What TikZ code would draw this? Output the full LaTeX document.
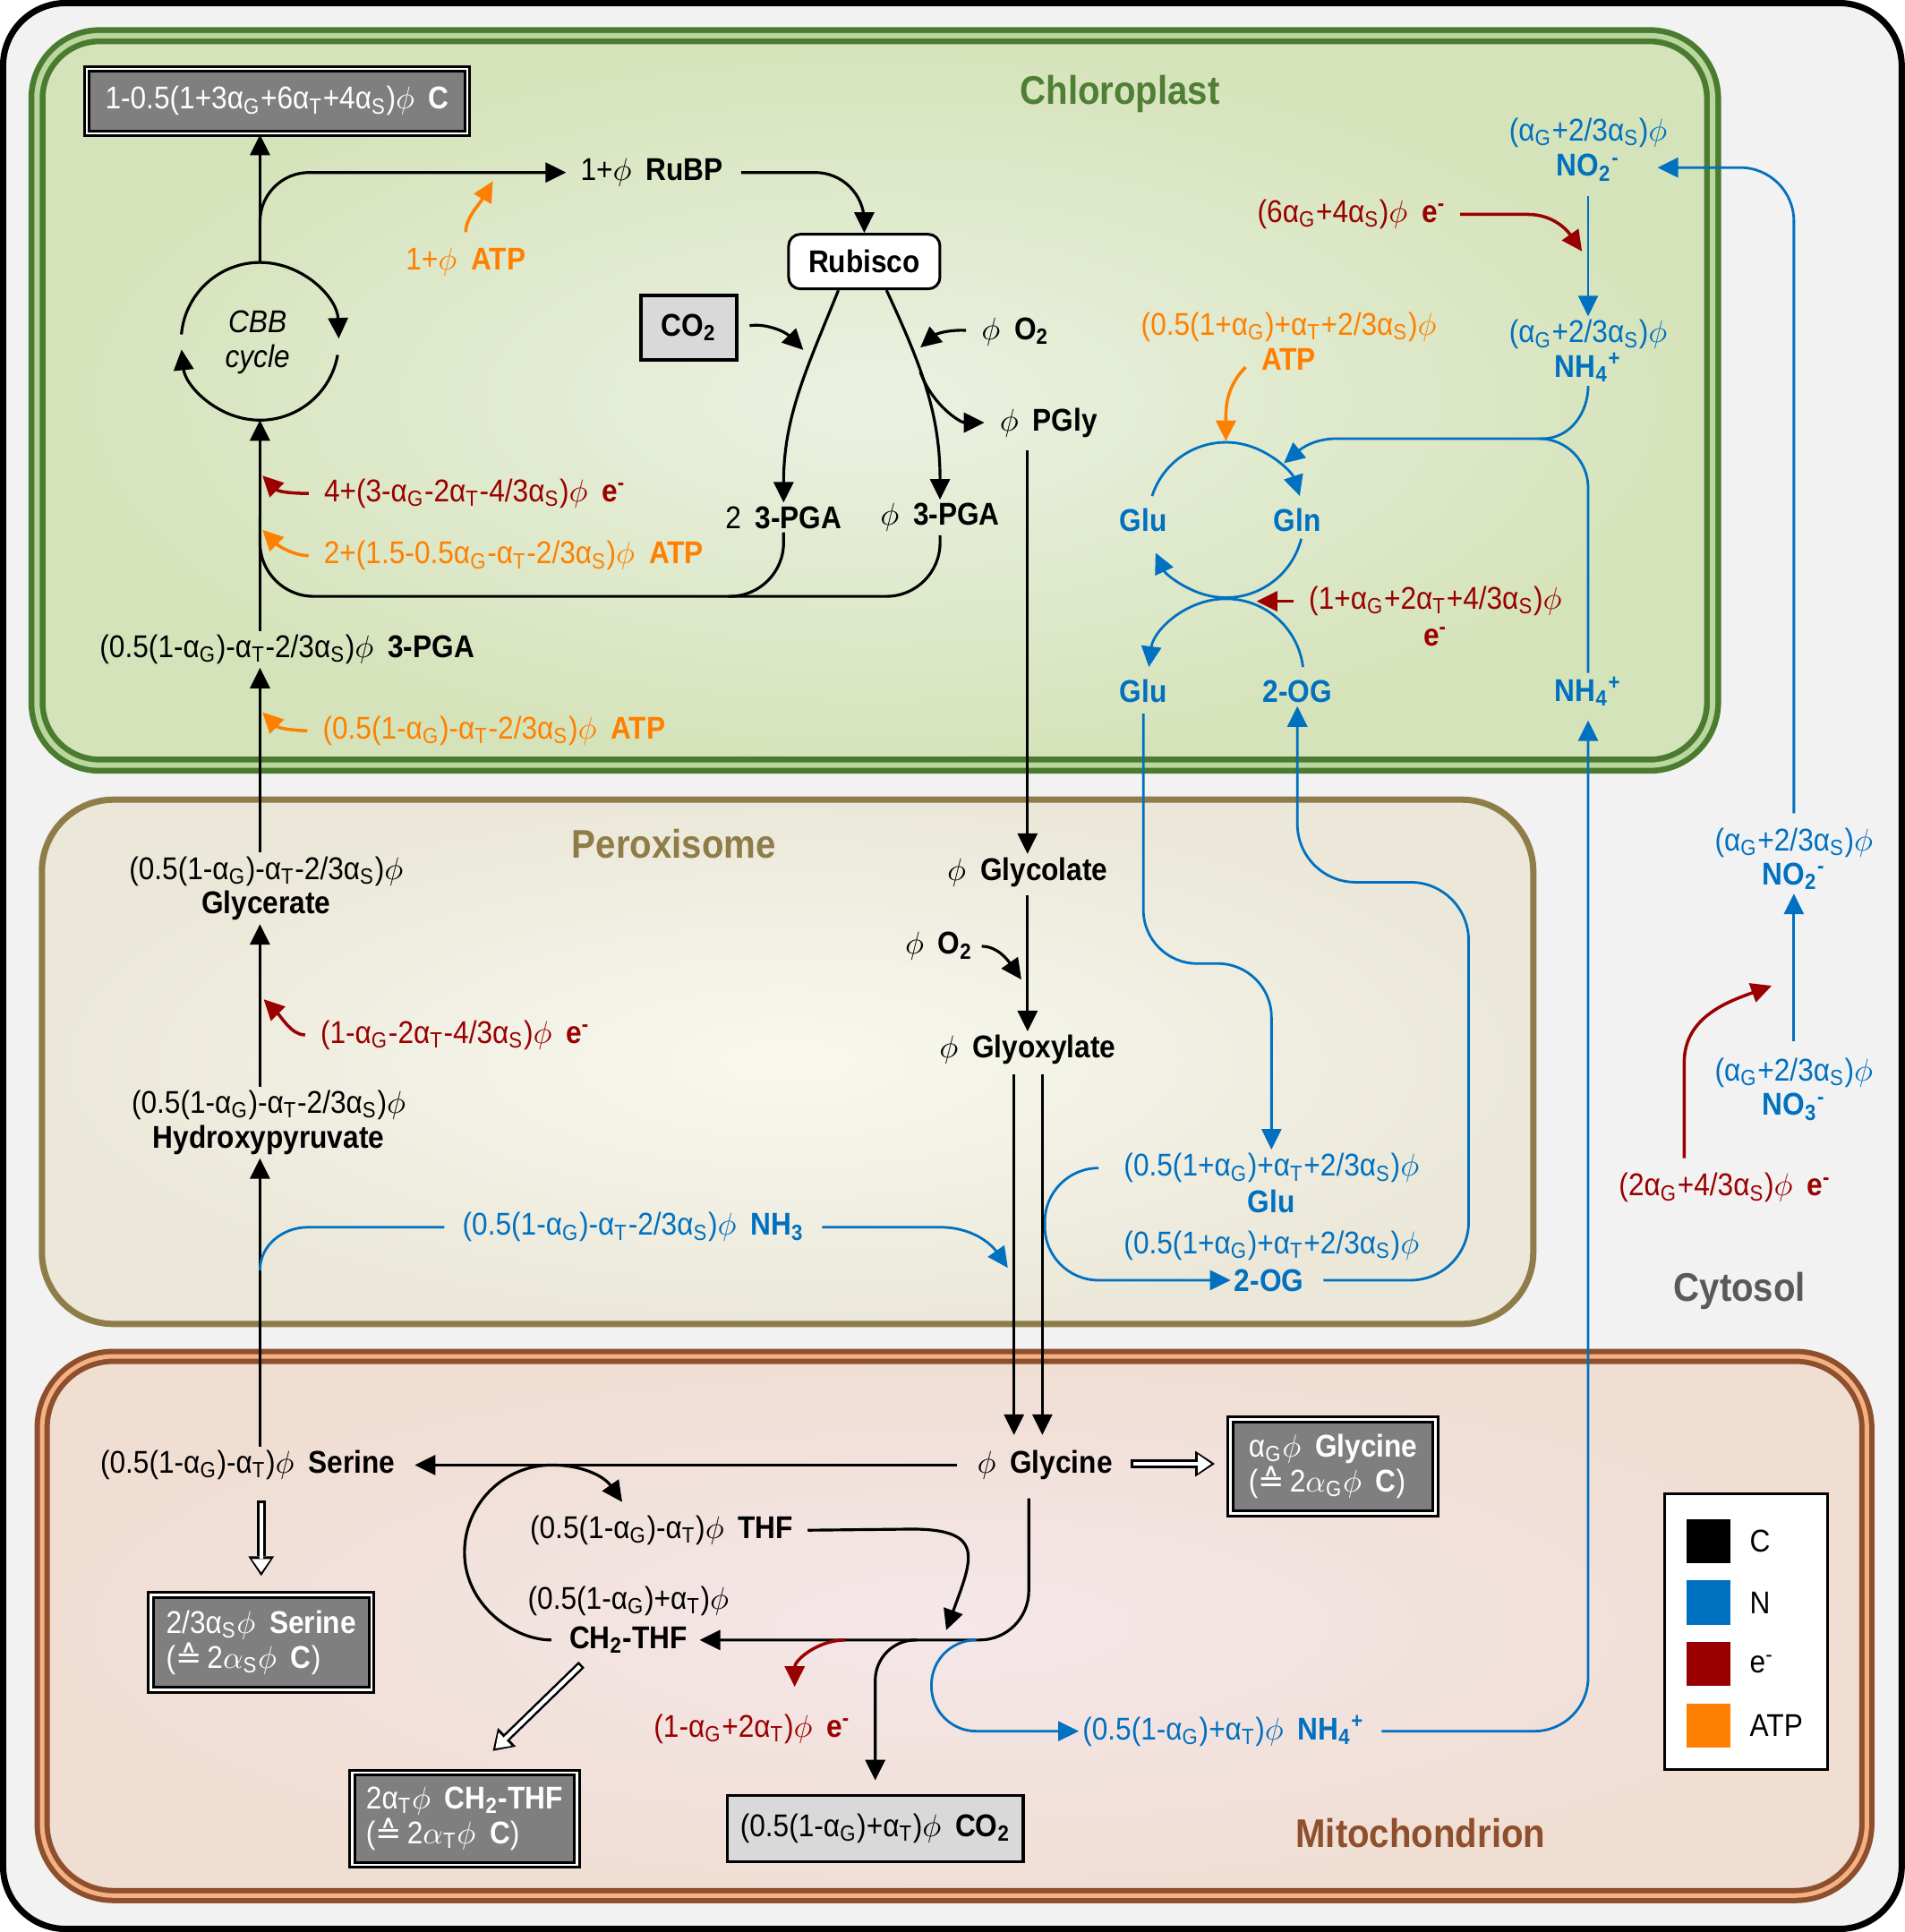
\documentclass[tikz,border=0pt]{standalone}
\usepackage{fontspec}
\setmainfont{Liberation Sans}[FakeStretch=0.9]
\newfontfamily\symfont{DejaVu Sans}
\usetikzlibrary{arrows.meta,calc,positioning}

\definecolor{cytofill}{HTML}{F2F2F2}
\definecolor{chldark}{HTML}{4A7B2F}
\definecolor{chllight}{HTML}{B9D79F}
\definecolor{chlout}{HTML}{D5E3BA}
\definecolor{chlin}{HTML}{EBF1E2}
\definecolor{chltitle}{HTML}{4F7F35}
\definecolor{perdark}{HTML}{8E7D48}
\definecolor{perout}{HTML}{EBE8D9}
\definecolor{perin}{HTML}{F8F8EF}
\definecolor{mitdark}{HTML}{8E4F2D}
\definecolor{mitlight}{HTML}{F4B183}
\definecolor{mitout}{HTML}{F0DED3}
\definecolor{mitin}{HTML}{F5E7EA}
\definecolor{cytotitle}{HTML}{595959}
\definecolor{nblue}{HTML}{0070C0}
\definecolor{ered}{HTML}{9A0000}
\definecolor{atporange}{HTML}{FF8000}
\definecolor{sinkgray}{HTML}{7F7F7F}
\definecolor{gasgray}{HTML}{D9D9D9}

\newcommand\aG{α\textsubscript{G}}
\newcommand\aT{α\textsubscript{T}}
\newcommand\aS{α\textsubscript{S}}
\newcommand\phv{\ensuremath{\phi}}
\newcommand\nsp{\hspace{0.45em}}
\newcommand\chg[2]{\textsubscript{#1}\textsuperscript{#2}}
\newcommand\elec{\textbf{e\textsuperscript{-}}}
\newcommand\ceq[1]{({\symfont ≙}\,2$\alpha$\textsubscript{#1}\phv\nsp\textbf{C})}

\begin{document}
\begin{tikzpicture}[x=0.1376mm, y=-0.1376mm,
  every node/.style = {font=\fontsize{10}{11}\selectfont, inner sep=1pt, align=center},
  flowtip/.style = {-{Triangle[length=2.3mm, width=2.2mm]}},
  cline/.style = {draw=black, line width=0.9pt, flowtip},
  cplain/.style = {draw=black, line width=0.9pt},
  nline/.style = {draw=nblue, line width=0.8pt, flowtip},
  nplain/.style = {draw=nblue, line width=0.8pt},
  eline/.style = {draw=ered, line width=1pt, flowtip},
  aline/.style = {draw=atporange, line width=1pt, flowtip},
  nlab/.style = {text=nblue},
  elab/.style = {text=ered},
  alab/.style = {text=atporange},
  comptitle/.style = {font=\fontsize{12.7}{14}\selectfont\bfseries},
  sink/.style = {draw=black, line width=0.3mm, double=white, double distance=0.25mm, fill=sinkgray, text=white, align=left},
  gasbox/.style = {draw=black, line width=0.35mm, fill=gasgray},
  legsq/.style = {minimum size=4.9mm, inner sep=0pt},
  hollowout/.style = {draw=black, line width=0.95mm, -{Triangle[length=2.2mm, width=2.9mm, line width=0pt]}},
  hollowin/.style = {draw=white, line width=0.45mm, shorten <=0.25mm, shorten >=0.4mm, -{Triangle[length=1.5mm, width=2.1mm, line width=0pt]}},
  ]
  \useasboundingbox (0,0) rectangle (1546,1568);
  \draw[line width=0.7mm, fill=cytofill, rounded corners=7mm] (2.5,2.5) rectangle (1543.5,1565.5);
  \draw[draw=chldark, line width=0.65mm, double=chllight, double distance=0.6mm, inner color=chlin, outer color=chlout, rounded corners=7mm] (30,29) rectangle (1390,621);
  \draw[draw=perdark, line width=0.7mm, inner color=perin, outer color=perout, rounded corners=8mm] (34,649) rectangle (1244.5,1074.5);
  \draw[draw=mitdark, line width=0.6mm, double=mitlight, double distance=0.5mm, inner color=mitin, outer color=mitout, rounded corners=8mm] (34.2,1100.8) rectangle (1515.2,1538.4);

  \node[comptitle, text=chltitle] (chltxt) at (909,76) {Chloroplast};
  \node[comptitle, text=perdark] (pertxt) at (547,685) {Peroxisome};
  \node[comptitle, text=mitdark] (mittxt) at (1153,1488) {Mitochondrion};
  \node[comptitle, text=cytotitle] (cyttxt) at (1412,1048) {Cytosol};

  \node[sink, minimum width=42.5mm, minimum height=7.2mm, align=center] (cbox) at (225,82) {1-0.5(1+3\aG+6\aT+4\aS)\phv\nsp\textbf{C}};
  \node (cbbtxt) at (209,278) {\textit{CBB}\\\textit{cycle}};
  \node (rubp) at (529,140) {1+\phv\nsp\textbf{RuBP}};
  \node[alab] (atp1) at (378,213) {1+\phv\nsp\textbf{ATP}};
  \node[draw=black, line width=0.3mm, fill=white, rounded corners=1.3mm, minimum width=16.9mm, minimum height=6.1mm] (rubisco) at (701.5,212.3) {\textbf{Rubisco}};
  \node[gasbox, minimum width=10.7mm, minimum height=7.2mm] (co2c) at (559,266) {\textbf{CO\textsubscript{2}}};
  \node (o2c) at (824,269) {\phv\nsp\textbf{O\textsubscript{2}}};
  \node (pgly) at (851,343) {\phv\nsp\textbf{PGly}};
  \node (pga2) at (636,420) {2\nsp\textbf{3-PGA}};
  \node (pga1) at (763,420) {\phv\nsp\textbf{3-PGA}};
  \node[elab] (e1) at (385.5,400.5) {4+(3-\aG-2\aT-4/3\aS)\phv\nsp\elec};
  \node[alab] (atp2) at (417,451) {2+(1.5-0.5\aG-\aT-2/3\aS)\phv\nsp\textbf{ATP}};
  \node (pga3) at (233,527) {(0.5(1-\aG)-\aT-2/3\aS)\phv\nsp\textbf{3-PGA}};
  \node[alab] (atp3) at (401,593) {(0.5(1-\aG)-\aT-2/3\aS)\phv\nsp\textbf{ATP}};

  \node[nlab] (no2cc) at (1289,108) {(\aG+2/3\aS)\phv};
  \node[nlab] (no2c) at (1289,136) {\textbf{NO\chg{2}{-}}};
  \node[elab] (e6) at (1097,174) {(6\aG+4\aS)\phv\nsp\elec};
  \node[nlab] (nh4c1) at (1289,285) {(\aG+2/3\aS)\phv\\\textbf{NH\chg{4}{+}}};
  \node[alab] (atpgs) at (1046,277) {(0.5(1+\aG)+\aT+2/3\aS)\phv\\\textbf{ATP}};
  \node[nlab] (glu1) at (928,422) {\textbf{Glu}};
  \node[nlab] (gln) at (1053,422) {\textbf{Gln}};
  \node[elab] (egog) at (1165,488) {(1+\aG+2\aT+4/3\aS)\phv};
  \node[elab, below=0.4mm of egog] (egog2) {\elec};
  \node[nlab] (glu2) at (928,561) {\textbf{Glu}};
  \node[nlab] (og2c) at (1053,561) {\textbf{2-OG}};
  \node[nlab] (nh4c2) at (1289,561) {\textbf{NH\chg{4}{+}}};

  \node (glyc) at (216,721) {(0.5(1-\aG)-\aT-2/3\aS)\phv\\\textbf{Glycerate}};
  \node[elab] (eper) at (369.5,840) {(1-\aG-2\aT-4/3\aS)\phv\nsp\elec};
  \node (hyd) at (218,911) {(0.5(1-\aG)-\aT-2/3\aS)\phv\\\textbf{Hydroxypyruvate}};
  \node[nlab] (nh3) at (514,996) {(0.5(1-\aG)-\aT-2/3\aS)\phv\nsp\textbf{NH\textsubscript{3}}};
  \node (glycol) at (834,708) {\phv\nsp\textbf{Glycolate}};
  \node (o2p) at (762,768) {\phv\nsp\textbf{O\textsubscript{2}}};
  \node (glyox) at (834,852) {\phv\nsp\textbf{Glyoxylate}};
  \node[nlab] (glupc) at (1032,948) {(0.5(1+\aG)+\aT+2/3\aS)\phv};
  \node[nlab] (glup) at (1032,975) {\textbf{Glu}};
  \node[nlab] (og2pc) at (1032,1011) {(0.5(1+\aG)+\aT+2/3\aS)\phv};
  \node[nlab] (og2p) at (1030,1039) {\textbf{2-OG}};

  \node[nlab] (no2y) at (1456,697) {(\aG+2/3\aS)\phv\\\textbf{NO\chg{2}{-}}};
  \node[nlab] (no3y) at (1456,884) {(\aG+2/3\aS)\phv\\\textbf{NO\chg{3}{-}}};
  \node[elab] (ecy) at (1400,964) {(2\aG+4/3\aS)\phv\nsp\elec};

  \node (ser) at (201,1189) {(0.5(1-\aG)-\aT)\phv\nsp\textbf{Serine}};
  \node (glycine) at (848,1189) {\phv\nsp\textbf{Glycine}};
  \node (thf) at (537,1242) {(0.5(1-\aG)-\aT)\phv\nsp\textbf{THF}};
  \node (ch2) at (510,1331) {\textbf{CH\textsubscript{2}-THF}};
  \node[above=0.4mm of ch2] (ch2c) {(0.5(1-\aG)+\aT)\phv};
  \node[elab] (em) at (610.5,1403) {(1-\aG+2\aT)\phv\nsp\elec};
  \node[gasbox, minimum width=33mm, minimum height=7.4mm] (co2m) at (710.4,1484) {(0.5(1-\aG)+\aT)\phv\nsp\textbf{CO\textsubscript{2}}};
  \node[nlab] (nh4m) at (993,1405) {(0.5(1-\aG)+\aT)\phv\nsp\textbf{NH\chg{4}{+}}};
  \node[sink, minimum width=24.6mm, minimum height=10.6mm] (serbox) at (212,1333) {2/3\aS\phv\nsp\textbf{Serine}\\\ceq{S}};
  \node[sink, minimum width=25.1mm, minimum height=10.3mm] (ch2box) at (377,1476) {2\aT\phv\nsp\textbf{CH\textsubscript{2}-THF}\\\ceq{T}};
  \node[sink, minimum width=22.9mm, minimum height=10.5mm] (glybox) at (1082,1190) {\aG\phv\nsp\textbf{Glycine}\\\ceq{G}};

  \node[draw=black, line width=0.3mm, fill=white, minimum width=18.2mm, minimum height=30.8mm] (legend) at (1417,1324.5) {};
  \node[legsq, fill=black] (legc) at (1386.5,1250.6) {};
  \node[legsq, fill=nblue] (legn) at (1386.5,1300.6) {};
  \node[legsq, fill=ered] (lege) at (1386.5,1350.6) {};
  \node[legsq, fill=atporange] (lega) at (1386.5,1400.3) {};
  \node[right=1.7mm of legc] (legct) {C};
  \node[right=1.7mm of legn] (legnt) {N};
  \node[right=1.7mm of lege] (leget) {e\textsuperscript{-}};
  \node[right=1.7mm of lega] (legat) {ATP};

  \coordinate (cbb) at (211,277);
  \coordinate (cbbN) at (211,213);
  \coordinate (cbbS) at (211,341);
  \coordinate (atp1tip) at (400,147);
  \coordinate (co2tip) at (652,284);
  \coordinate (o2tip) at (747,282);
  \coordinate (pglyfork) at (747,302);
  \coordinate (pgaline) at (591,484);
  \coordinate (trunkjoin) at (211,420);
  \coordinate (e1tip) at (213,386);
  \coordinate (atp2tip) at (213,430);
  \coordinate (atp3tip) at (213,578);
  \coordinate (eptip) at (214,811);
  \coordinate (e6tip) at (1284,204);
  \coordinate (nhjoin) at (1252,356);
  \coordinate (glntip) at (1042,376);
  \coordinate (atpgsst) at (1011,298);
  \coordinate (cyctop) at (995,358);
  \coordinate (gs1) at (995,422);
  \coordinate (gs2) at (995,549);
  \coordinate (egtip) at (1020,488);
  \coordinate (glubend) at (980,782);
  \coordinate (ogbend) at (1192,716);
  \coordinate (oglp) at (848,1039);
  \coordinate (nh3fork) at (211,1031);
  \coordinate (nh3tip) at (818,1029);
  \coordinate (o2ptip) at (829,795);
  \coordinate (gx1) at (823,872);
  \coordinate (gx2) at (846,872);
  \coordinate (ecyst) at (1367,940);
  \coordinate (ecytip) at (1438,800);
  \coordinate (loopl) at (377,1260);
  \coordinate (looptop) at (448,1189);
  \coordinate (thftip) at (505,1219);
  \coordinate (thftip2) at (768,1323);
  \coordinate (gdn) at (835,1216);
  \coordinate (emfork) at (686,1331);
  \coordinate (emtip) at (645,1369);
  \coordinate (co2fork) at (744,1331);
  \coordinate (nhfork) at (792,1331);
  \coordinate (nhbend) at (756,1405);
  \coordinate (serh1) at (212,1218);
  \coordinate (serh2) at (212,1279);
  \coordinate (glyh1) at (918,1188);
  \coordinate (glyh2) at (986,1188);
  \coordinate (ch2h1) at (472,1351);
  \coordinate (ch2h2) at (400,1421);

  \draw[cline] ($(cbb)+(185:64)$) arc[start angle=185, end angle=358, radius=64];
  \draw[cline] ($(cbb)+(10:64)$) arc[start angle=10, end angle=174, radius=64];
  \draw[cline] (cbbN) -- (cbbN |- cbox.south);
  \draw[cline, rounded corners=5.5mm, shorten >=1.2mm] (cbbN) |- (rubp.west);
  \draw[aline, shorten <=1.4mm] (atp1.north) to[out=90, in=240] (atp1tip);
  \draw[cline, rounded corners=5.5mm, shorten <=1.6mm] (rubp.east) -| (rubisco.north);
  \draw[cline] ($(rubisco.south)+(-21,0)$) to[out=248, in=90] (pga2.north);
  \draw[cline] ($(rubisco.south)+(18,0)$) to[out=295, in=90] (pga1.north);
  \draw[cline, shorten >=1.3mm] (pglyfork) to[out=290, in=180] (pgly.west);
  \draw[cline, shorten <=1.3mm] (co2c.east) to[out=10, in=135] (co2tip);
  \draw[cline, shorten <=1.3mm] (o2c.west) to[out=175, in=40] (o2tip);
  \draw[cplain, rounded corners=6mm] (pga1.south) |- (pgaline);
  \draw[cplain, rounded corners=6mm] (pga2.south) |- (cbbS |- pgaline) -- (trunkjoin);
  \draw[cline] (cbbS |- pga3.north) -- (cbbS);
  \draw[eline, shorten <=1.3mm] (e1.west) to[out=180, in=315] (e1tip);
  \draw[aline, shorten <=1.3mm] (atp2.west) to[out=180, in=315] (atp2tip);
  \draw[aline, shorten <=1.3mm] (atp3.west) to[out=180, in=315] (atp3tip);
  \draw[cline] (cbbS |- glyc.north) -- (cbbS |- pga3.south);

  \draw[nline, shorten <=1.3mm] (no2c.south) -- (nh4c1.north);
  \draw[eline, shorten <=1.2mm] (e6.east) -- (1240,174) to[out=0, in=125] (e6tip);
  \draw[nplain, rounded corners=5.5mm] (nh4c2.north) |- (nhjoin);
  \draw[nline] (nh4c1.south) to[out=270, in=0] (nhjoin) -- (1085,356) to[out=180, in=40] (glntip);
  \draw[aline] (atpgsst) to[out=225, in=90] (cyctop);
  \draw[nline] ($(gs1)+(198:63)$) arc[start angle=198, end angle=342, radius=63];
  \draw[nline] ($(gs1)+(14:63)$) arc[start angle=14, end angle=155, radius=63];
  \draw[nline] ($(gs2)+(353:63)$) arc[start angle=353, end angle=187, radius=63];
  \draw[eline, shorten <=1.3mm] (egog.west) -- (egtip);
  \draw[nline, rounded corners=6mm, shorten >=3.8mm, shorten <=1.2mm] (no2y.north) |- (no2c.east);
  \draw[nline, shorten <=1.5mm] (no3y.north) -- (no2y.south);
  \draw[eline] (ecyst) -- (1367,862) to[out=90, in=200] (ecytip);

  \draw[nline, rounded corners=6mm, shorten <=0.8mm] (glu2.south) -- (glu2.south |- glubend) -| (glupc.north);
  \draw[nline, rounded corners=6.5mm, shorten <=1.8mm] (og2p.east) -| (ogbend) -| (og2c.south);
  \draw[nline, rounded corners=6mm, shorten <=2.4mm] (glupc.west) -| (oglp) -- (og2p.west);

  \draw[cline] (cbbS |- hyd.north) -- (cbbS |- glyc.south);
  \draw[eline, shorten <=1.3mm] (eper.west) to[out=180, in=315] (eptip);
  \draw[cline] (cbbS |- ser.north) -- (cbbS |- hyd.south);
  \draw[nplain, shorten >=1.6mm] (nh3fork) to[out=90, in=180] (250,996) -- (nh3.west);
  \draw[nline, shorten <=1.6mm] (nh3.east) -- (763,996) to[out=0, in=125] (nh3tip);
  \draw[cline, shorten <=1mm] (glycol.north |- pgly.south) -- (glycol.north);
  \draw[cline, shorten <=0.5mm] (glycol.south) -- (glycol.south |- glyox.north);
  \draw[cline, shorten <=0.6mm] (o2p.east) to[out=0, in=125] (o2ptip);
  \draw[cline, shorten >=1.3mm] (gx1) -- (gx1 |- glycine.north);
  \draw[cline, shorten >=1.3mm] (gx2) -- (gx2 |- glycine.north);

  \draw[cline, shorten <=1.8mm, shorten >=1.8mm] (glycine.west) -- (ser.east);
  \draw[cline, shorten <=1.6mm] (ch2.west) to[out=180, in=270] (loopl) to[out=90, in=180] (looptop) to[out=0, in=125] (thftip);
  \draw[cline, shorten <=1.2mm] (thf.east) -- (740,1241) to[out=0, in=70, looseness=1.8] (thftip2);
  \draw[cline, rounded corners=5.5mm, shorten >=0.95mm] (gdn) |- (ch2.east);
  \draw[eline] (emfork) to[out=180, in=90] (emtip);
  \draw[cline, rounded corners=4.5mm, shorten >=1.5mm] (co2fork) -| (co2m.north);
  \draw[nline, rounded corners=5mm] (nhfork) -| (nhbend) -- (nh4m.west);
  \draw[nline, rounded corners=6mm, shorten <=1.5mm, shorten >=1.2mm] (nh4m.east) -| (nh4c2.south);

  \foreach \hs in {hollowout, hollowin} {
    \draw[\hs] (serh1) -- (serh2);
    \draw[\hs] (glyh1) -- (glyh2);
    \draw[\hs] (ch2h1) -- (ch2h2);
  }
\end{tikzpicture}
\end{document}
